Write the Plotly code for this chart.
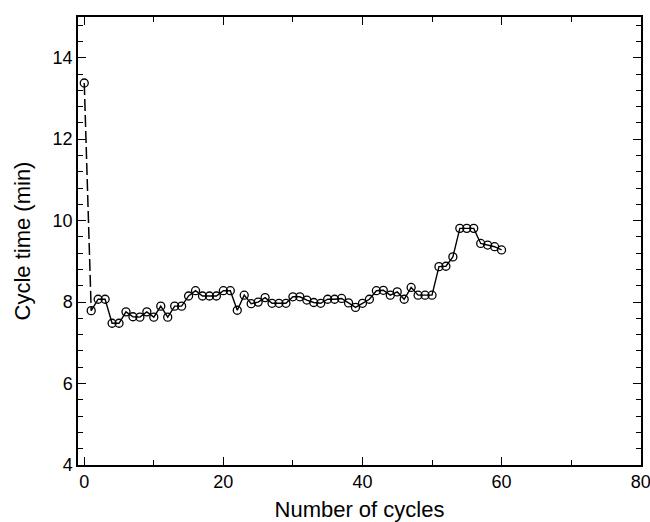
import plotly.graph_objects as go

cycles = list(range(0, 61))
cycle_time = [13.38, 7.79, 8.07, 8.07, 7.48, 7.48, 7.76, 7.64, 7.63, 7.76,
              7.63, 7.90, 7.63, 7.90, 7.90, 8.15, 8.28, 8.15, 8.15, 8.15,
              8.28, 8.28, 7.80, 8.17, 7.96, 8.00, 8.11, 7.97, 7.97, 7.97,
              8.13, 8.13, 8.05, 7.99, 7.97, 8.07, 8.07, 8.09, 7.98, 7.87,
              7.97, 8.07, 8.28, 8.29, 8.17, 8.25, 8.07, 8.36, 8.17, 8.17,
              8.17, 8.87, 8.88, 9.11, 9.81, 9.81, 9.81, 9.44, 9.40, 9.36,
              9.28]

FONT = "Liberation Sans, Arial"

fig = go.Figure()
# dashed first segment
fig.add_trace(go.Scatter(x=cycles[:2], y=cycle_time[:2], mode="lines",
                         line=dict(color="black", width=1.5, dash="12px,4px"),
                         showlegend=False, hoverinfo="skip"))
fig.add_trace(go.Scatter(x=cycles[1:], y=cycle_time[1:], mode="lines",
                         line=dict(color="black", width=1.4),
                         showlegend=False))
fig.add_trace(go.Scatter(x=cycles, y=cycle_time, mode="markers",
                         marker=dict(symbol="circle-open", size=8, color="black",
                                     line=dict(width=1.3, color="black")),
                         showlegend=False))

axis_common = dict(showgrid=False, zeroline=False, showline=True, linecolor="black",
                   linewidth=1.5, mirror="allticks", ticks="inside", ticklen=8,
                   tickwidth=1.3, tickcolor="black", automargin=False,
                   ticklabeloverflow="allow",
                   tickfont=dict(family=FONT, size=18, color="black"))

fig.update_xaxes(range=[-0.9, 80.05], dtick=20, tick0=0,
                 minor=dict(dtick=10, ticks="inside", ticklen=5, tickwidth=1.3, tickcolor="black"),
                 title=dict(text="Number of cycles", font=dict(family=FONT, size=22, color="black"), standoff=11),
                 **axis_common)
fig.update_yaxes(range=[4, 15], dtick=2, tick0=4,
                 minor=dict(dtick=0.4, tick0=4, ticks="inside", ticklen=5, tickwidth=1.3, tickcolor="black"),
                 title=dict(text="Cycle time (min)", font=dict(family=FONT, size=22, color="black"), standoff=16),
                 **axis_common)

fig.update_layout(width=650, height=522, plot_bgcolor="white", paper_bgcolor="white",
                  margin=dict(l=78, r=9, t=17, b=57))

fig.write_html("out.html")
